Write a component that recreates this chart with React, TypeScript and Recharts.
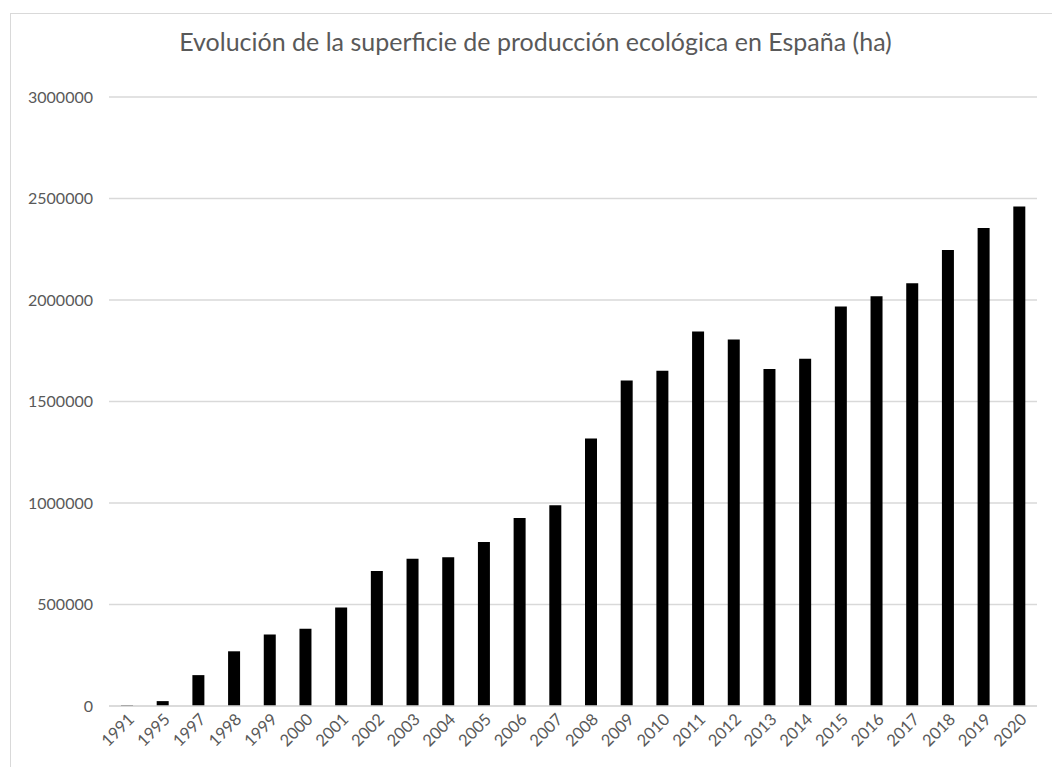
import React from 'react';
import { Bar, BarChart, CartesianGrid, XAxis, YAxis } from 'recharts';

const years = [
  '1991', '1995', '1997', '1998', '1999', '2000', '2001', '2002', '2003', '2004', '2005', '2006', '2007',
  '2008', '2009', '2010', '2011', '2012', '2013', '2014', '2015', '2016', '2017', '2018', '2019', '2020',
];

const hectares = [
  4235, 24078, 152105, 269465, 352164, 380838, 485079, 665055, 725254, 733182, 807569, 926390, 988323,
  1317752, 1602868, 1650866, 1845039, 1805000, 1660000, 1710475, 1968570, 2018802, 2082173, 2246475, 2354916, 2460000,
];

const yTicks = [0, 500000, 1000000, 1500000, 2000000, 2500000, 3000000];

const FONT = 'Lato, "Open Sans", sans-serif';
const TEXT = '#595959';
const GRID = '#d9d9d9';

const data = years.map((year, i) => ({ year, value: hectares[i] }));

const YearTick = (props: any) => {
  const { x, y, payload } = props;
  return (
    <g transform={`translate(${x + 5},${y + 3})`}>
      <text x={0} y={0} dy={5} textAnchor="end" transform="rotate(-45)" fill={TEXT} fontSize={16.5} fontFamily={FONT}>
        {payload.value}
      </text>
    </g>
  );
};

const App: React.FC = () => {
  return (
    <div style={{ position: 'absolute', left: 0, top: 0, width: 1052, height: 767, background: '#fff' }}>
      <div
        style={{
          position: 'absolute',
          left: 10,
          top: 13,
          width: 1042,
          height: 754,
          borderTop: `1.5px solid ${GRID}`,
          borderLeft: `1.5px solid ${GRID}`,
          boxSizing: 'border-box',
        }}
      />
      <div
        style={{
          position: 'absolute',
          left: 0,
          width: 1071,
          top: 26,
          textAlign: 'center',
          fontFamily: FONT,
          fontSize: 25,
          color: TEXT,
        }}
      >
        Evolución de la superficie de producción ecológica en España (ha)
      </div>
      <div style={{ position: 'absolute', left: 0, top: 0 }}>
        <BarChart
          width={1052}
          height={767}
          data={data}
          margin={{ top: 97, right: 15, bottom: 0, left: 0 }}
          barCategoryGap="33%"
        >
          <CartesianGrid vertical={false} stroke={GRID} strokeWidth={1.5} />
          <XAxis
            dataKey="year"
            tickLine={false}
            axisLine={{ stroke: GRID, strokeWidth: 1.5 }}
            tick={<YearTick />}
            interval={0}
            height={61}
          />
          <YAxis
            width={109}
            domain={[0, 3000000]}
            ticks={yTicks}
            tickLine={false}
            axisLine={false}
            tickMargin={10}
            tick={{ fill: TEXT, fontSize: 16, fontFamily: FONT }}
          />
          <Bar dataKey="value" fill="#000000" barSize={12} isAnimationActive={false} />
        </BarChart>
      </div>
    </div>
  );
};

export default App;
